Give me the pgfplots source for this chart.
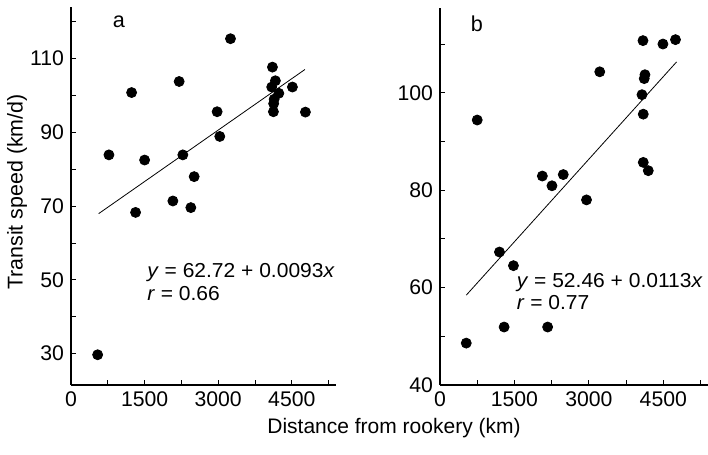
\documentclass[border=0pt]{standalone}
\usepackage{fontspec}
\setmainfont{Liberation Sans}
\newfontfamily\eqfont{Liberation Sans}[FakeStretch=1.04]
\usepackage{pgfplots}
\pgfplotsset{compat=1.18}
\begin{document}
\begin{tikzpicture}
\useasboundingbox (0,0) rectangle (354pt,227.5pt);
\pgfplotsset{
  panel/.style={
    scale only axis,
    axis lines=left,
    axis line style={-, line width=0.75pt},
    tick align=inside,
    major tick length=2.5pt,
    minor tick length=2.5pt,
    tick style={line width=0.5pt, black},
    xmin=0, xmax=5400,
    xtick={0,1500,3000,4500},
    minor xtick={750,2250,3750,5250},
    /pgf/number format/assume math mode=true,
    /pgf/number format/1000 sep={},
    scaled x ticks=false,
    tick label style={font=\fontsize{10.6}{12}\selectfont},
    clip=false,
  },
  pts/.style={only marks, mark=*, mark size=2.5pt, black},
  fit/.style={no marks, black, line width=0.4pt},
}
% Panel a
\begin{axis}[panel,
  at={(35.5pt,35pt)}, anchor=south west,
  width=132.5pt, height=189pt,
  ymin=21.5, ymax=124,
  ytick={30,50,70,90,110},
  minor ytick={40,60,80,100,120},
]
\addplot[pts] coordinates {
(543,29.7) (773,83.9) (1235,100.8) (1316,68.3) (1500,82.5) (2076,71.4)
(2204,103.8) (2279,83.9) (2442,69.6) (2510,78) (2978,95.6) (3032,88.9)
(3250,115.4) (4105,107.7) (4165,104) (4090,102.3) (4235,100.6) (4140,99)
(4130,97.8) (4125,95.6) (4512,102.3) (4777,95.5)
};
\addplot[fit] coordinates {(563,67.96) (4768,107.06)};
\node[font=\fontsize{10.8}{12}\selectfont] at (axis cs:977,120.1) {a};
\node[anchor=west, inner sep=0pt, font=\eqfont\fontsize{10.1}{12}\selectfont] at (axis cs:1547,52) {\textit{y} = 62.72 + 0.0093\textit{x}};
\node[anchor=west, inner sep=0pt, font=\eqfont\fontsize{10.1}{12}\selectfont] at (axis cs:1547,46.3) {\textit{r} = 0.66};
\end{axis}
% Panel b
\begin{axis}[panel,
  at={(220pt,35pt)}, anchor=south west,
  width=134pt, height=188.5pt,
  ymin=40, ymax=117.4,
  ytick={40,60,80,100},
  minor ytick={50,70,90,110},
]
\addplot[pts] coordinates {
(529,48.6) (750,94.4) (1198,67.3) (1292,51.9) (1480,64.5) (2062,82.9)
(2169,51.9) (2256,80.9) (2484,83.2) (2952,78) (3219,104.3) (4090,110.7)
(4130,103.7) (4115,102.9) (4070,99.6) (4096,95.6) (4096,85.7) (4197,84)
(4492,110) (4745,110.9)
};
\addplot[fit] coordinates {(529,58.44) (4766,106.32)};
\node[font=\fontsize{10.8}{12}\selectfont] at (axis cs:743,114.1) {b};
\node[anchor=west, inner sep=0pt, font=\eqfont\fontsize{10.1}{12}\selectfont] at (axis cs:1540,61.1) {\textit{y} = 52.46 + 0.0113\textit{x}};
\node[anchor=west, inner sep=0pt, font=\eqfont\fontsize{10.1}{12}\selectfont] at (axis cs:1540,57) {\textit{r} = 0.77};
\end{axis}
\node[font=\fontsize{10.5}{12}\selectfont] at (197pt,13.5pt) {Distance from rookery (km)};
\node[rotate=90, font=\fontsize{10.7}{12}\selectfont] at (8.5pt,131.5pt) {Transit speed (km/d)};
\end{tikzpicture}
\end{document}
